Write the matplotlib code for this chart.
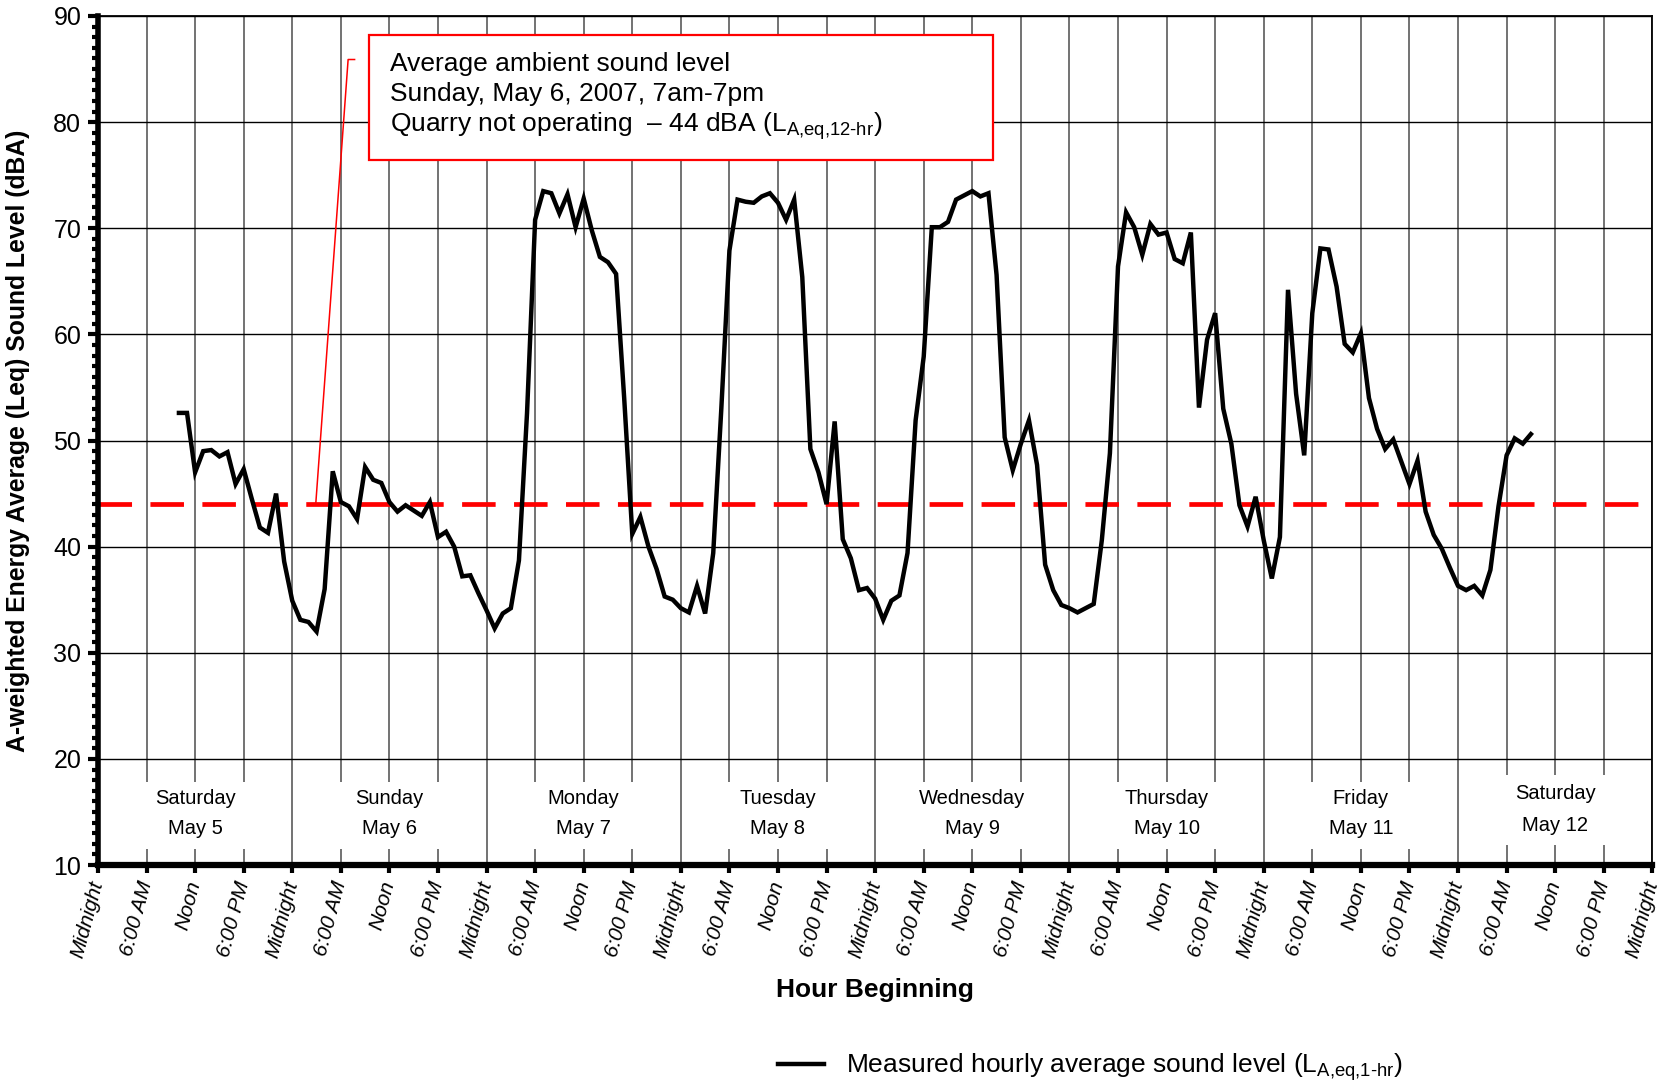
import matplotlib
matplotlib.use("Agg")
import matplotlib.pyplot as plt
from matplotlib.ticker import MultipleLocator, FixedLocator
from matplotlib.patches import Rectangle
from matplotlib.lines import Line2D

plt.rcParams['font.family'] = ['Liberation Sans', 'DejaVu Sans']
plt.rcParams['mathtext.fontset'] = 'custom'
plt.rcParams['mathtext.rm'] = 'Liberation Sans'
plt.rcParams['mathtext.it'] = 'Liberation Sans:italic'
plt.rcParams['mathtext.bf'] = 'Liberation Sans:bold'

# ---------------- data ----------------
hours = list(range(10, 178))  # hour index from Saturday May 5, midnight
sound_level = [
    52.6, 52.6, 47.0, 49.0, 49.1, 48.5, 48.9, 45.9, 47.3, 44.5, 41.8, 41.3, 45.0, 38.6,
    34.9, 33.1, 32.9, 32.0, 36.0, 47.1, 44.2, 43.8, 42.6, 47.5, 46.3, 46.0, 44.2, 43.3,
    43.9, 43.4, 42.9, 44.2, 40.9, 41.4, 40.0, 37.2, 37.3, 35.6,
    34.0, 32.3, 33.7, 34.2, 38.7, 52.6, 70.8, 73.5, 73.3, 71.4, 73.2, 70.1, 72.8, 69.8,
    67.3, 66.8, 65.7, 54.0, 41.2, 42.8, 40.0, 37.9, 35.3, 35.0,
    34.2, 33.8, 36.3, 33.7, 39.4, 53.0, 67.9, 72.7, 72.5, 72.4, 73.0, 73.3, 72.4, 70.8,
    72.7, 65.4, 49.2, 47.0, 44.0, 51.8, 40.7, 38.9, 35.9, 36.1,
    35.1, 33.1, 34.9, 35.4, 39.4, 51.9, 57.9, 70.1, 70.1, 70.6, 72.7, 73.1, 73.5, 73.0,
    73.3, 65.6, 50.3, 47.2, 49.7, 51.9, 47.7, 38.3, 35.9, 34.5,
    34.2, 33.8, 34.2, 34.6, 40.6, 48.8, 66.4, 71.5, 70.1, 67.5, 70.4, 69.4, 69.6, 67.1,
    66.7, 69.6, 53.1, 59.5, 62.0, 53.0, 49.7, 43.9, 41.9, 44.7,
    40.6, 37.0, 40.9, 64.2, 54.4, 48.6, 62.0, 68.1, 68.0, 64.5, 59.1, 58.3, 60.1, 54.0,
    51.1, 49.2, 50.1, 48.0, 45.9, 48.1, 43.3, 41.1, 39.8, 38.0,
    36.3, 35.9, 36.3, 35.4, 37.8, 43.8, 48.6, 50.2, 49.7, 50.6,
]
ambient_level = 44
day_names = ["Saturday", "Sunday", "Monday", "Tuesday", "Wednesday", "Thursday", "Friday", "Saturday"]
day_dates = ["May 5", "May 6", "May 7", "May 8", "May 9", "May 10", "May 11", "May 12"]
tick_cycle = ["Midnight", "6:00 AM", "Noon", "6:00 PM"]
annotation_lines = [
    "Average ambient sound level",
    "Sunday, May 6, 2007, 7am-7pm",
    r"Quarry not operating  – 44 dBA (L$_{\mathrm{A{,}eq{,}12\text{-}hr}}$)",
]
legend_label = r"Measured hourly average sound level (L$_{\mathrm{A{,}eq{,}1\text{-}hr}}$)"

# ---------------- figure ----------------
fig = plt.figure(figsize=(16.69, 10.81), dpi=100)
ax = fig.add_axes([0.0587, 0.1998, 0.9313, 0.7854])

n_days = len(day_names)
ax.set_xlim(0, 24 * n_days)
ax.set_ylim(10, 90)
ax.set_axisbelow(True)

# gridlines
xt = list(range(0, 24 * n_days + 1, 6))
ax.xaxis.set_major_locator(FixedLocator(xt))
ax.set_xticklabels([tick_cycle[i % 4] for i in range(len(xt))])
ax.yaxis.set_major_locator(MultipleLocator(10))
ax.yaxis.set_minor_locator(MultipleLocator(1))
ax.grid(axis='x', which='major', color='#5a5a5a', linewidth=1.2)
ax.grid(axis='y', which='major', color='black', linewidth=1.0)

# white boxes behind the day labels
for d in range(n_days):
    if d == n_days - 1:
        y0, h = 11.9, 6.6
        ty1, ty2 = 16.75, 13.75
    else:
        y0, h = 11.5, 6.3
        ty1, ty2 = 16.3, 13.4
    ax.add_patch(Rectangle((24 * d + 1, y0), 22, h, facecolor='white',
                           edgecolor='none', zorder=1))
    ax.text(24 * d + 12, ty1, day_names[d], ha='center', va='center', fontsize=14.5, zorder=3)
    ax.text(24 * d + 12, ty2, day_dates[d], ha='center', va='center', fontsize=14.5, zorder=3)

# ambient level dashed line
ax.axhline(ambient_level, color='#ff0000', linewidth=3.4, dashes=(7.1, 3.9), zorder=2)

# measured line
ax.plot(hours, sound_level, color='black', linewidth=3.2, zorder=4, solid_joinstyle='miter')

# annotation callout
ax.plot([26.9, 30.9, 31.7], [ambient_level, 85.9, 85.9], color='#ff0000', linewidth=1.1, zorder=5)
ax.add_patch(Rectangle((33.5, 76.46), 77.1, 11.74, facecolor='white', edgecolor='#ff0000',
                       linewidth=1.6, zorder=5))
for yv, txt in zip([84.85, 81.98, 79.1], annotation_lines):
    ax.text(36.1, yv, txt, ha='left', va='baseline', fontsize=19, zorder=6)

# spines
for s in ['top', 'right']:
    ax.spines[s].set_linewidth(1.3)
ax.spines['left'].set_linewidth(4)
ax.spines['bottom'].set_linewidth(4.5)

ax.tick_params(axis='y', which='major', direction='out', length=7, width=3, labelsize=18, pad=5)
ax.tick_params(axis='y', which='minor', direction='out', length=4, width=3)
ax.tick_params(axis='x', which='major', direction='out', length=6, width=3, labelsize=15, pad=6)
for lab in ax.get_xticklabels():
    lab.set_rotation(75)
    lab.set_ha('right')
    lab.set_va('center')
    lab.set_rotation_mode('anchor')
    lab.set_style('italic')

ax.set_ylabel("A-weighted Energy Average (Leq) Sound Level (dBA)", fontsize=17.8, fontweight='bold')
ax.yaxis.set_label_coords(-0.044, 0.5)
ax.set_xlabel("Hour Beginning", fontsize=19, fontweight='bold')
ax.xaxis.set_label_coords(0.5, -0.133)

handle = Line2D([], [], color='black', linewidth=3.2)
fig.legend([handle], [legend_label], loc='center left', bbox_to_anchor=(0.466, 0.0127),
           frameon=False, fontsize=19, handlelength=1.77, handletextpad=0.8, borderpad=0,
           borderaxespad=0)

fig.savefig("out.png", dpi=100)
